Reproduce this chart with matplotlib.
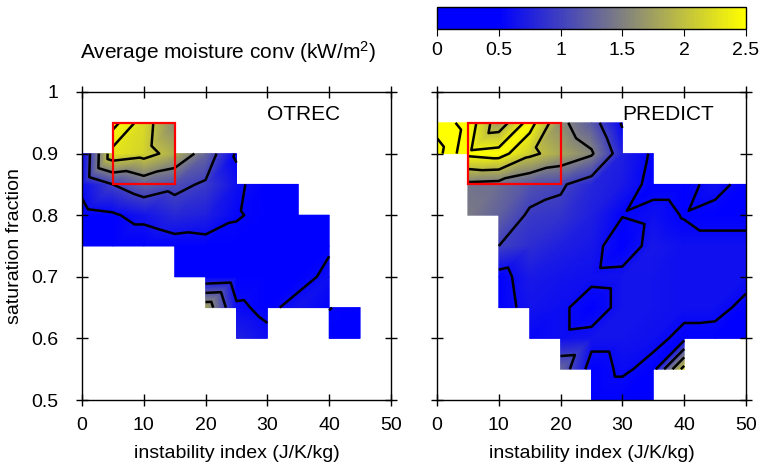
import numpy as np
import matplotlib
matplotlib.use("Agg")
import matplotlib.pyplot as plt
import matplotlib.tri as mtri
from matplotlib.colors import LinearSegmentedColormap
from matplotlib.patches import Rectangle

plt.rcParams["font.family"] = ["Liberation Sans", "DejaVu Sans"]
plt.rcParams["font.size"] = 14
plt.rcParams["mathtext.fontset"] = "custom"
plt.rcParams["mathtext.rm"] = "Liberation Sans"
plt.rcParams["mathtext.default"] = "regular"

nan = np.nan

# grid nodes
instab = [0, 5, 10, 15, 20, 25, 30, 35, 40, 45, 50]                                # J/K/kg
satfrac = [0.5, 0.55, 0.6, 0.65, 0.7, 0.75, 0.8, 0.85, 0.9, 0.95, 1.0]

# average moisture convergence (kW/m2), rows follow satfrac (bottom -> top)
otrec = [
    [nan, nan, nan, nan, nan, nan, nan, nan, nan, nan, nan],
    [nan, nan, nan, nan, nan, nan, nan, nan, nan, nan, nan],
    [nan, nan, nan, nan, nan, 0.75, 0.6, nan, 0.3, 0.3, nan],
    [nan, nan, nan, nan, 1.8, 0.58, 0.4, 0.65, 0.52, 0.3, nan],
    [nan, nan, nan, 0.2, 0.13, 0.2, 0.25, 0.35, 0.6, nan, nan],
    [0.2, 0.15, 0.15, 0.3, 0.35, 0.3, 0.3, 0.3, 0.45, nan, nan],
    [0.38, 0.45, 0.65, 0.81, 0.75, 0.55, 0.35, 0.25, 0.3, nan, nan],
    [0.6, 1.0, 1.25, 1.1, 0.95, 0.62, 0.2, 0.2, nan, nan, nan],
    [0.55, 2.3, 2.15, 1.85, 1.3, 0.45, nan, nan, nan, nan, nan],
    [nan, 3.2, 2.2, 1.55, nan, nan, nan, nan, nan, nan, nan],
    [nan, nan, nan, nan, nan, nan, nan, nan, nan, nan, nan],
]

predict = [
    [nan, nan, nan, nan, nan, 0.25, 0.25, 0.25, nan, nan, nan],
    [nan, nan, nan, nan, 1.3, 0.3, 0.58, 0.35, 2.2, nan, nan],
    [nan, nan, nan, 0.55, 0.6, 0.65, 0.65, 0.62, 0.38, 0.35, 0.35],
    [nan, nan, 0.3, 0.65, 0.6, 0.25, 0.65, 0.65, 0.62, 0.62, 0.4],
    [nan, nan, 0.35, 0.7, 0.65, 0.62, 0.65, 0.65, 0.62, 0.62, 0.62],
    [nan, nan, 1.0, 0.85, 0.75, 0.68, 0.2, 0.68, 0.62, 0.62, 0.62],
    [nan, 1.45, 1.25, 0.95, 0.9, 0.75, 0.52, 0.62, 0.48, 0.38, 0.38],
    [nan, 1.4, 1.35, 1.15, 1.05, 0.8, 0.7, 0.38, 0.38, 0.62, 0.38],
    [3.7, 2.6, 2.7, 2.1, 1.8, 1.55, 0.75, 0.45, nan, nan, nan],
    [3.3, 2.8, 1.7, 2.7, 1.6, 1.2, 0.45, nan, nan, nan, nan],
    [nan, nan, nan, nan, nan, nan, nan, nan, nan, nan, nan],
]

levels = [0.5, 1.0, 1.5, 2.0, 2.5, 3.0, 3.5]
cbar_ticks = [0, 0.5, 1, 1.5, 2, 2.5]
x_ticks = [0, 10, 20, 30, 40, 50]
y_ticks = [0.5, 0.6, 0.7, 0.8, 0.9, 1.0]

# (name, data, red box: x0, y0, width, height)
panels = [
    ("OTREC", otrec, (5, 0.85, 10, 0.1)),
    ("PREDICT", predict, (5, 0.85, 15, 0.1)),
]

cmap = LinearSegmentedColormap.from_list(
    "bgy", [(0.0, "#0000ff"), (0.2, "#0000ff"), (0.6, "#808080"), (1.0, "#ffff00")])


def mesh(z):
    z = np.array(z, dtype=float)
    X, Y = np.meshgrid(instab, satfrac)
    ok = np.isfinite(z)
    nx = len(instab)
    tris = []
    for j in range(len(satfrac) - 1):
        for i in range(nx - 1):
            if ok[j, i] and ok[j, i + 1] and ok[j + 1, i] and ok[j + 1, i + 1]:
                a = j * nx + i
                c = a + nx
                tris += [[a, a + 1, c + 1], [a, c + 1, c]]
    tri = mtri.Triangulation(X.ravel(), Y.ravel(), tris)
    return tri, np.nan_to_num(z.ravel())


fig = plt.figure(figsize=(7.63, 4.65), dpi=100)
axes = [fig.add_axes([82 / 763, 65 / 465, 309 / 763, 308 / 465]),
        fig.add_axes([437 / 763, 65 / 465, 309 / 763, 308 / 465])]

for k, (ax, (name, data, box)) in enumerate(zip(axes, panels)):
    tri, zz = mesh(data)
    im = ax.tripcolor(tri, zz, shading="gouraud", cmap=cmap, vmin=0, vmax=2.5)
    ax.tricontour(tri, zz, levels=levels, colors="k", linewidths=1.8)
    ax.add_patch(Rectangle(box[:2], box[2], box[3], fill=False,
                           edgecolor="#ff0000", linewidth=1.6, zorder=5))
    ax.text(30, 0.963, name, ha="left", va="center", fontsize=15)

    ax.set_xlim(0, 50)
    ax.set_ylim(0.5, 1.0)
    ax.set_xticks(x_ticks)
    ax.set_yticks(y_ticks)
    ax.set_xticklabels([f"{v:g}" for v in x_ticks])
    ax.set_yticklabels([f"{v:g}" for v in y_ticks])
    ax.tick_params(direction="inout", length=8, width=1, top=True, right=True,
                   labelsize=14)
    ax.tick_params(axis="x", pad=8)
    ax.tick_params(axis="y", pad=13)
    ax.set_xlabel("instability index (J/K/kg)", fontsize=14, labelpad=8)
    if k == 0:
        ax.set_ylabel("saturation fraction", fontsize=14, labelpad=6)
    else:
        ax.tick_params(labelleft=False)
    for s in ax.spines.values():
        s.set_linewidth(1)

cax = fig.add_axes([437 / 763, (465 - 29.5) / 465, 309 / 763, 22 / 465])
cb = fig.colorbar(im, cax=cax, orientation="horizontal", ticks=cbar_ticks)
cb.ax.set_xticklabels([f"{v:g}" for v in cbar_ticks])
cb.ax.tick_params(direction="out", length=5, labelsize=14, pad=4)
cb.outline.set_linewidth(1)

fig.text(228 / 763, 1 - 52 / 465, "Average moisture conv (kW/m$^2$)",
         ha="center", va="center", fontsize=15)

fig.savefig("out.png", dpi=100)
